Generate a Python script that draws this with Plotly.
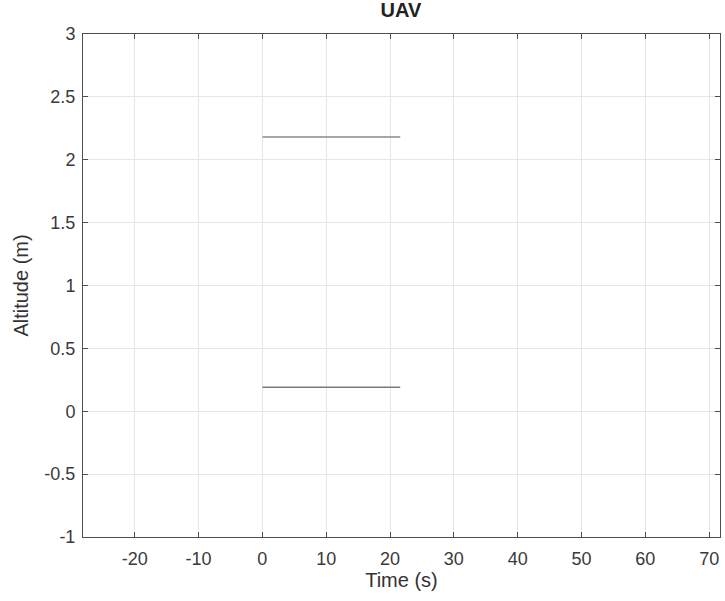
import plotly.graph_objects as go

# Data
time_upper = [0, 21.6]
alt_upper = [2.18, 2.18]
time_lower = [0, 21.6]
alt_lower = [0.19, 0.19]

x_ticks = [-20, -10, 0, 10, 20, 30, 40, 50, 60, 70]
x_tick_labels = ["-20", "-10", "0", "10", "20", "30", "40", "50", "60", "70"]
y_ticks = [-1, -0.5, 0, 0.5, 1, 1.5, 2, 2.5, 3]
y_tick_labels = ["-1", "-0.5", "0", "0.5", "1", "1.5", "2", "2.5", "3"]

fig = go.Figure()
fig.add_trace(go.Scatter(x=time_upper, y=alt_upper, mode="lines",
                         line=dict(color="#8a8a8a", width=1.5), showlegend=False))
fig.add_trace(go.Scatter(x=time_lower, y=alt_lower, mode="lines",
                         line=dict(color="#7a7a7a", width=1.5), showlegend=False))

font_family = "Liberation Sans, Arial, sans-serif"
axis_common = dict(
    showline=True, linecolor="#4d4d4d", linewidth=1, mirror="ticks",
    ticks="inside", ticklen=5, tickcolor="#4d4d4d",
    showgrid=True, gridcolor="#e6e6e6", gridwidth=1,
    zeroline=False,
    tickfont=dict(family=font_family, size=18, color="#3a3a3a"),
)

fig.update_layout(
    width=725, height=601,
    margin=dict(l=83, r=5, t=34, b=64),
    paper_bgcolor="white", plot_bgcolor="white",
    title=dict(text="<b>UAV</b>", x=0.553, xanchor="center", y=0.995, yanchor="top",
               font=dict(family=font_family, size=20, color="#222222")),
    xaxis=dict(range=[-28.1, 71.7], tickvals=x_ticks, ticktext=x_tick_labels,
               ticklabelstandoff=5,
               title=dict(text="Time (s)", font=dict(family=font_family, size=20, color="#333333"), standoff=4),
               **axis_common),
    yaxis=dict(range=[-1, 3], tickvals=y_ticks, ticktext=y_tick_labels,
               ticklabelstandoff=3,
               title=dict(text="Altitude (m)", font=dict(family=font_family, size=20, color="#333333"), standoff=10),
               **axis_common),
)

fig.write_html("out.html")
